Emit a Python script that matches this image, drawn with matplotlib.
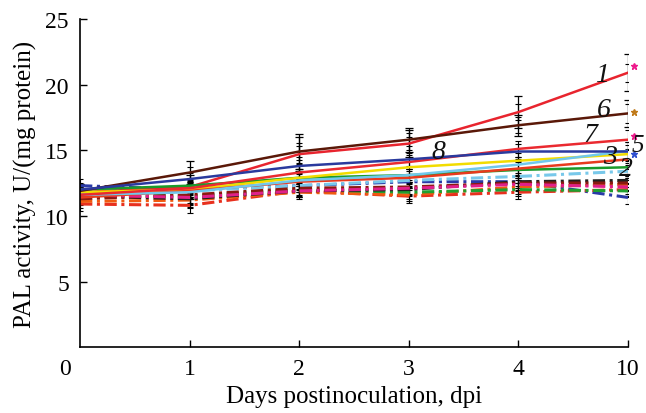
import matplotlib.pyplot as plt
import matplotlib.transforms as mtransforms
import numpy as np

plt.rcParams['font.family'] = ['Liberation Serif', 'DejaVu Serif']

"""
Data read from the figure
"""
days = [0, 1, 2, 3, 4, 5]
day_labels = ['0', '1', '2', '3', '4', '10']

# solid lines (numbered 1-8)
s1 = [11.8, 12.2, 14.7, 15.5, 17.9, 20.9]
s2 = [12.0, 12.3, 12.9, 13.1, 13.5, 13.7]
s3 = [11.8, 12.0, 12.9, 13.7, 14.2, 14.7]
s4 = [11.4, 11.9, 12.6, 12.9, 13.6, 14.3]
s5 = [11.6, 11.8, 12.7, 13.1, 13.9, 14.95]
s6 = [11.9, 13.3, 14.9, 15.8, 16.9, 17.8]
s7 = [11.6, 12.1, 13.3, 14.1, 15.1, 15.8]
s8 = [12.0, 12.8, 13.8, 14.3, 14.9, 14.9]
solid_err = [0.6, 0.9, 1.3, 1.0, 1.2, 1.4]

# dash-dot lines
d1 = [12.3, 12.0, 12.3, 12.6, 12.6, 11.4]
d2 = [12.0, 11.9, 12.3, 12.7, 13.0, 13.4]
d3 = [10.9, 10.8, 11.9, 11.5, 11.8, 12.0]
d4 = [11.1, 11.2, 11.8, 11.6, 12.2, 12.4]
d5 = [11.7, 11.5, 12.0, 11.8, 12.0, 11.9]
d6 = [11.5, 11.3, 11.9, 12.0, 12.6, 12.7]
d7 = [11.3, 11.6, 12.1, 12.2, 12.5, 12.5]
d8 = [11.6, 11.4, 11.9, 12.1, 12.4, 12.2]
dash_err = [0.5, 0.6, 0.5, 0.5, 0.5, 0.5]

# significance stars at 10 dpi
star_vals = [21.4, 17.9, 16.1, 14.7]
star_cols = ['#ee1a8c', '#c07a1a', '#ee1a8c', '#3050d0']

"""
Plot
"""
fig = plt.figure(figsize=(6.46, 4.14), dpi=100)
ax = fig.add_axes([0.124, 0.159, 0.848, 0.793])

solid = [(s1, '#e8242e'), (s2, '#1a9a2a'), (s3, '#f2dc00'), (s4, '#e83a1e'),
         (s5, '#70c8ec'), (s6, '#5a1808'), (s7, '#ea2a30'), (s8, '#2a3a9e')]
dash = [(d1, '#2a3aa8'), (d2, '#78c8ea'), (d3, '#e8301e'), (d4, '#f05a10'),
        (d5, '#20a030'), (d6, '#202020'), (d7, '#8a1a10'), (d8, '#e0208a')]

for vals, c in dash:
    ax.errorbar(days, vals, yerr=dash_err, color=c, linestyle=(0, (4, 1.5, 1, 1.5)),
                linewidth=2.2, ecolor='black', elinewidth=0.8, capsize=2.5, capthick=0.8)
for vals, c in solid:
    ax.errorbar(days, vals, yerr=np.array(solid_err) * 0.5, color=c, linestyle='-',
                linewidth=1.8, ecolor='black', elinewidth=0.8, capsize=2.5, capthick=0.8)
# largest error bars belong to lines 1 and 6
ax.errorbar(days, s1, yerr=solid_err, fmt='none', ecolor='black', elinewidth=0.9, capsize=3, capthick=0.9)
ax.errorbar(days, s6, yerr=[0.5, 0.9, 1.3, 0.9, 0.8, 1.0], fmt='none', ecolor='black',
            elinewidth=0.9, capsize=3, capthick=0.9)

for v, c in zip(star_vals, star_cols):
    ax.plot(5.055, v, marker='*', color=c, markersize=5, clip_on=False, linestyle='none')

lab_kw = dict(fontsize=20, style='italic', color='#111111')
ax.text(4.76, 20.8, '1', ha='center', va='center', **lab_kw)
ax.text(4.78, 18.1, '6', ha='center', va='center', **lab_kw)
ax.text(4.66, 16.2, '7', ha='center', va='center', **lab_kw)
ax.text(3.27, 14.9, '8', ha='center', va='center', **lab_kw)
ax.text(4.84, 14.5, '3', ha='center', va='center', **lab_kw)
ax.text(4.98, 13.6, '2', ha='center', va='center', **lab_kw)
ax.text(5.095, 15.4, '5', ha='center', va='center', clip_on=False,
        fontsize=18, style='italic', color='#111111')

ax.set_xlim(0, 5)
ax.set_ylim(0, 25)
ax.set_xticks(days)
ax.set_xticklabels(day_labels)
ax.set_yticks([5, 10, 15, 20, 25])
ax.tick_params(direction='in', labelsize=17, length=5, width=1, pad=8)
ax.spines['top'].set_visible(False)
ax.spines['right'].set_visible(False)
ax.spines['left'].set_linewidth(1.2)
ax.spines['bottom'].set_linewidth(1.2)
ax.xaxis.get_major_ticks()[0].tick1line.set_visible(False)
offset = mtransforms.ScaledTranslation(-15 / 100, 0, fig.dpi_scale_trans)
first = ax.get_xticklabels()[0]
first.set_transform(first.get_transform() + offset)

ax.set_xlabel('Days postinoculation, dpi', fontsize=18, labelpad=4)
ax.set_ylabel('PAL activity, U/(mg protein)', fontsize=18, labelpad=6)

fig.savefig('out.png', dpi=100)
